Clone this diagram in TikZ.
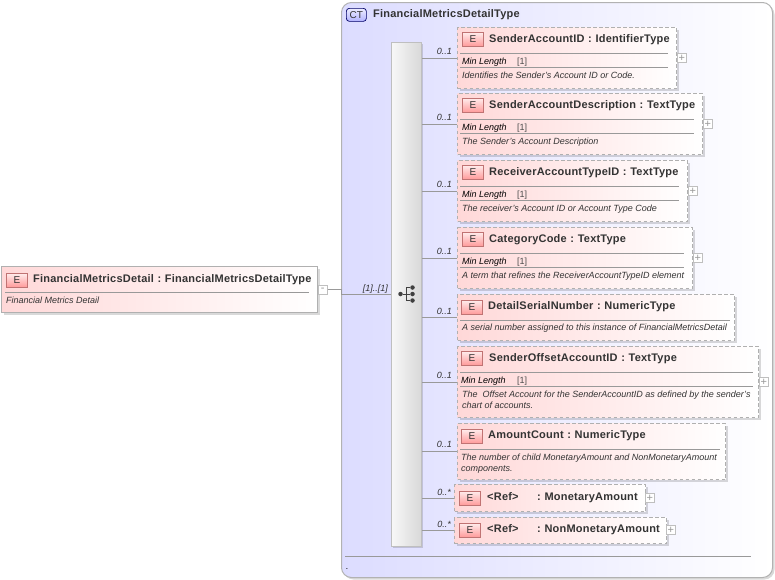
\documentclass[tikz,border=0pt]{standalone}
\usepackage{fontspec}
\setmainfont{Liberation Sans}
\usetikzlibrary{shadows}
\definecolor{ctblue}{HTML}{DCDCFF}
\definecolor{elpink}{HTML}{FFD8D8}
\definecolor{elline}{HTML}{B0B0B0}
\definecolor{inktext}{HTML}{333333}
\tikzset{
  boxshadow/.style={general shadow={shadow xshift=2pt,shadow yshift=-2pt,fill=black,opacity=0.15}},
  elembox/.style={draw=elline,line width=1pt,dash pattern=on 3.5pt off 2.5pt,left color=elpink,right color=white,boxshadow,anchor=north west,inner sep=0pt},
  rootbox/.style={elembox,solid},
  badge/.style={draw=black!45!red!55,line width=0.7pt,top color=elpink!50,bottom color=red!40,minimum width=21pt,minimum height=14pt,inner sep=0pt,anchor=north west,font=\fontsize{10}{10}\selectfont,text=inktext},
  ctbadge/.style={badge,draw=black!60!blue,rounded corners=3pt,top color=ctblue!50,bottom color=blue!30},
  eltitle/.style={anchor=base west,inner sep=0pt,font=\fontsize{11}{11}\selectfont\bfseries\addfontfeatures{LetterSpace=2},text=inktext},
  elfacet/.style={anchor=base west,inner sep=0pt,font=\fontsize{9}{9}\selectfont\itshape,text=black},
  elvalue/.style={anchor=base west,inner sep=0pt,font=\fontsize{9}{9}\selectfont,text=black!70},
  eldesc/.style={anchor=north west,inner sep=0pt,font=\fontsize{9}{10.5}\selectfont\itshape,text=inktext,align=left},
  multlabel/.style={anchor=base east,inner sep=0pt,font=\fontsize{9}{9}\selectfont\itshape,text=inktext},
  sepline/.style={draw=black!40,line width=0.6pt},
  conn/.style={draw=black!40,line width=0.6pt},
  expbox/.style={draw=black!25,fill=white,line width=0.5pt,minimum size=9pt,inner sep=0pt,anchor=west},
  plusbox/.style={expbox,label={[inner sep=0pt,text=black!40,font=\fontsize{11}{11}\selectfont]center:+}},
  minusbox/.style={expbox,label={[inner sep=0pt,text=black!40,font=\fontsize{11}{11}\selectfont]center:-}},
  icondot/.style={circle,fill=black!75,minimum size=4.5pt,inner sep=0pt},
}
\begin{document}
\begin{tikzpicture}[x=1pt,y=-1pt]
\useasboundingbox (0,0) rectangle (775,579);
% complex type frame
\node[draw=black!30,line width=1pt,rounded corners=10pt,left color=ctblue,right color=white,anchor=north west,inner sep=0pt,minimum width=431pt,minimum height=575pt,boxshadow] (ctframe) at (341,2) {};
\node[ctbadge,minimum width=20pt,minimum height=13pt] (ctmark) at (346,8) {CT};
\node[eltitle] (cttitle) at (373,17) {FinancialMetricsDetailType};
\draw[sepline] (345,556) -- (751,556);
\node[elfacet] (ctdot) at (346,569) {.};
% sequence bar
\node[draw=black!25,line width=0.8pt,left color=black!3,right color=black!15,anchor=north west,inner sep=0pt,minimum width=30pt,minimum height=504pt,boxshadow] (seq) at (391,42) {};
\node[icondot] (dotin) at (400.5,294) {};
\coordinate (dotjoin) at (406.5,294);
\node[icondot] (dota) at (412.5,287.5) {};
\node[icondot] (dotb) at (412.5,294) {};
\node[icondot] (dotc) at (412.5,300.5) {};
\draw[black!75,line width=0.9pt] (dotin) -- (dotb) (dota) -| (dotjoin) (dotc) -| (dotjoin);
% root element
\node[rootbox,minimum width=316pt,minimum height=46pt] (root) at (1,266) {};
\node[badge] (rootmark) at (6,273) {E};
\node[eltitle] (roottitle) at (33,282) {FinancialMetricsDetail\,\,:\,\,FinancialMetricsDetailType};
\draw[sepline] (5,292) -- (309,292);
\node[eldesc] (rootdesc) at (6,297) {Financial Metrics Detail};
\node[minusbox] (rootexp) at (root.east) {};
\draw[conn] (rootexp.east) -- (ctframe.west |- rootexp.east) -- (ctframe.west |- seq.west) -- (seq.west);
\node[multlabel] (rootmult) at (388,291) {[1]..[1]};
% SenderAccountID
\node[elembox,minimum width=219pt,minimum height=61pt] (acctid) at (457,27) {};
\node[badge] (acctidmark) at (462,32) {E};
\node[eltitle] (acctidtitle) at (489,42) {SenderAccountID\,\,:\,\,IdentifierType};
\draw[sepline] (460,53) -- (668,53);
\node[elfacet] (acctidfacet) at (462,64) {Min Length};
\node[elvalue] (acctidvalue) at (517,64) {[1]};
\draw[sepline] (460,67) -- (668,67);
\node[eldesc] (acctiddesc) at (462,72) {Identifies the Sender's Account ID or Code.};
\node[plusbox] (acctidexp) at (acctid.east) {};
\node[multlabel] (acctidmult) at (452,54) {0..1};
\draw[conn] (seq.east |- acctid.west) -- (acctid.west);
% SenderAccountDescription
\node[elembox,minimum width=245pt,minimum height=61pt] (acctdesc) at (457,93) {};
\node[badge] (acctdescmark) at (462,98) {E};
\node[eltitle] (acctdesctitle) at (489,108) {SenderAccountDescription\,\,:\,\,TextType};
\draw[sepline] (460,119) -- (694,119);
\node[elfacet] (acctdescfacet) at (462,130) {Min Length};
\node[elvalue] (acctdescvalue) at (517,130) {[1]};
\draw[sepline] (460,133) -- (694,133);
\node[eldesc] (acctdescdesc) at (462,138) {The Sender's Account Description};
\node[plusbox] (acctdescexp) at (acctdesc.east) {};
\node[multlabel] (acctdescmult) at (452,120) {0..1};
\draw[conn] (seq.east |- acctdesc.west) -- (acctdesc.west);
% ReceiverAccountTypeID
\node[elembox,minimum width=230pt,minimum height=61pt] (recvid) at (457,160) {};
\node[badge] (recvidmark) at (462,165) {E};
\node[eltitle] (recvidtitle) at (489,175) {ReceiverAccountTypeID\,\,:\,\,TextType};
\draw[sepline] (460,186) -- (679,186);
\node[elfacet] (recvidfacet) at (462,197) {Min Length};
\node[elvalue] (recvidvalue) at (517,197) {[1]};
\draw[sepline] (460,200) -- (679,200);
\node[eldesc] (reciddesc) at (462,205) {The receiver's Account ID or Account Type Code};
\node[plusbox] (recvidexp) at (recvid.east) {};
\node[multlabel] (recvidmult) at (452,187) {0..1};
\draw[conn] (seq.east |- recvid.west) -- (recvid.west);
% CategoryCode
\node[elembox,minimum width=235pt,minimum height=61pt] (catcode) at (457,227) {};
\node[badge] (catcodemark) at (462,232) {E};
\node[eltitle] (catcodetitle) at (489,242) {CategoryCode\,\,:\,\,TextType};
\draw[sepline] (460,253) -- (684,253);
\node[elfacet] (catcodefacet) at (462,264) {Min Length};
\node[elvalue] (catcodevalue) at (517,264) {[1]};
\draw[sepline] (460,267) -- (684,267);
\node[eldesc] (catcodedesc) at (462,272) {A term that refines the ReceiverAccountTypeID element};
\node[plusbox] (catcodeexp) at (catcode.east) {};
\node[multlabel] (catcodemult) at (452,254) {0..1};
\draw[conn] (seq.east |- catcode.west) -- (catcode.west);
% DetailSerialNumber
\node[elembox,minimum width=277pt,minimum height=46pt] (serial) at (457,294) {};
\node[badge] (serialmark) at (461,300) {E};
\node[eltitle] (serialtitle) at (488,309) {DetailSerialNumber\,\,:\,\,NumericType};
\draw[sepline] (460,320) -- (730,320);
\node[eldesc] (serialdesc) at (462,324) {A serial number assigned to this instance of FinancialMetricsDetail};
\node[multlabel] (serialmult) at (452,314) {0..1};
\draw[conn] (seq.east |- serial.west) -- (serial.west);
% SenderOffsetAccountID
\node[elembox,minimum width=301pt,minimum height=71pt] (offset) at (457,346) {};
\node[badge] (offsetmark) at (461,351) {E};
\node[eltitle] (offsettitle) at (489,361) {SenderOffsetAccountID\,\,:\,\,TextType};
\draw[sepline] (460,372) -- (753,372);
\node[elfacet] (offsetfacet) at (461,383) {Min Length};
\node[elvalue] (offsetvalue) at (517,383) {[1]};
\draw[sepline] (460,386) -- (753,386);
\node[eldesc] (offsetdesc) at (462,391) {The\ \ Offset Account for the SenderAccountID as defined by the sender's\\chart of accounts.};
\node[plusbox] (offsetexp) at (offset.east) {};
\node[multlabel] (offsetmult) at (452,378) {0..1};
\draw[conn] (seq.east |- offset.west) -- (offset.west);
% AmountCount
\node[elembox,minimum width=268pt,minimum height=56pt] (amtcount) at (457,423) {};
\node[badge] (amtcountmark) at (461,429) {E};
\node[eltitle] (amtcounttitle) at (488,438) {AmountCount\,\,:\,\,NumericType};
\draw[sepline] (460,449) -- (720,449);
\node[eldesc] (amtcountdesc) at (461,454) {The number of child MonetaryAmount and NonMonetaryAmount\\components.};
\node[multlabel] (amtcountmult) at (452,447) {0..1};
\draw[conn] (seq.east |- amtcount.west) -- (amtcount.west);
% MonetaryAmount
\node[elembox,minimum width=191pt,minimum height=27pt] (monamt) at (454,484) {};
\node[badge] (monamtmark) at (459,491) {E};
\node[eltitle] (monamtref) at (487,500) {<Ref>};
\node[eltitle] (monamttitle) at (537,500) {:\,\,MonetaryAmount};
\node[plusbox] (monamtexp) at (645,498) {};
\node[multlabel] (monamtmult) at (451,495) {0..*};
\draw[conn] (seq.east |- monamt.west) -- (monamt.west);
% NonMonetaryAmount
\node[elembox,minimum width=212pt,minimum height=26pt] (nonamt) at (454,517) {};
\node[badge] (nonamtmark) at (459,523) {E};
\node[eltitle] (nonamtref) at (487,532) {<Ref>};
\node[eltitle] (nonamttitle) at (537,532) {:\,\,NonMonetaryAmount};
\node[plusbox] (nonamtexp) at (666,530) {};
\node[multlabel] (nonamtmult) at (451,527) {0..*};
\draw[conn] (seq.east |- nonamt.west) -- (nonamt.west);
\end{tikzpicture}
\end{document}
